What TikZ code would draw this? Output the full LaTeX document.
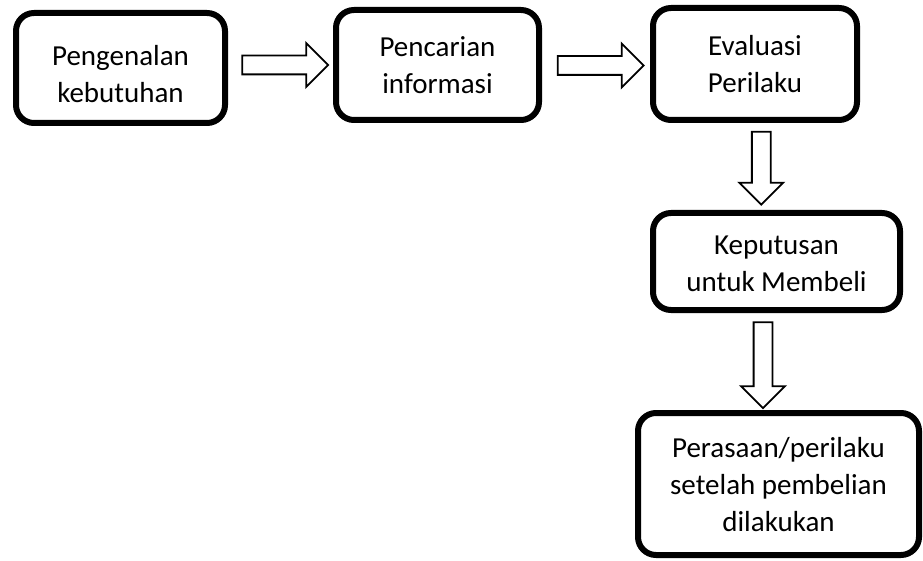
\documentclass[tikz,border=0pt]{standalone}
\usepackage{fontspec}
\setmainfont{Carlito}
\usetikzlibrary{shapes,arrows,positioning,calc}

\newcommand{\turun}[2]{\raisebox{-#1}[\height][\depth]{\begin{tabular}{@{}c@{}}#2\end{tabular}}}

\begin{document}
\begin{tikzpicture}[
    x=1pt, y=-1pt,
    block/.style={rectangle, draw, line width=6pt, rounded corners=18pt, align=center, inner sep=0pt, font=\fontsize{29}{37}\selectfont},
    blockarrow/.style={single arrow, draw, line width=1.8pt, inner xsep=0pt, inner ysep=8.5pt, minimum height=86pt, minimum width=42pt, single arrow head extend=12.5pt, single arrow tip angle=90, outer sep=0pt},
    downarrow/.style={blockarrow, rotate=-90}
]
\useasboundingbox (0,0) rectangle (923,561);

% kotak
\node[block, minimum width=209pt, minimum height=110pt] (kenal) at (120.5,68) {\turun{9pt}{Pengenalan\\kebutuhan}};
\node[block, minimum width=203pt, minimum height=110pt] (cari) at (437.5,65) {Pencarian\\informasi};
\node[block, minimum width=204pt, minimum height=112pt] (evaluasi) at (755,64) {Evaluasi\\Perilaku};
\node[block, minimum width=247pt, minimum height=97pt] (putus) at (776.5,261.5) {\turun{4pt}{Keputusan\\untuk Membeli}};
\node[block, minimum width=281pt, minimum height=142pt] (pasca) at (778.5,484) {\turun{3pt}{Perasaan/perilaku\\setelah pembelian\\dilakukan}};

% panah
\node[blockarrow] (a1) at ($(kenal.east)!0.5!(cari.west)+(0,-1.5)$) {};
\node[blockarrow] (a2) at ($(cari.east)!0.5!(evaluasi.west)+(0,1)$) {};
\node[downarrow, minimum height=73pt] (a3) at ($(evaluasi.south)!0.5!(putus.north)+(-4.5,-3)$) {};
\node[downarrow] (a4) at ($(putus.south)!0.5!(pasca.north)+(-14.5,-1)$) {};
\end{tikzpicture}
\end{document}
